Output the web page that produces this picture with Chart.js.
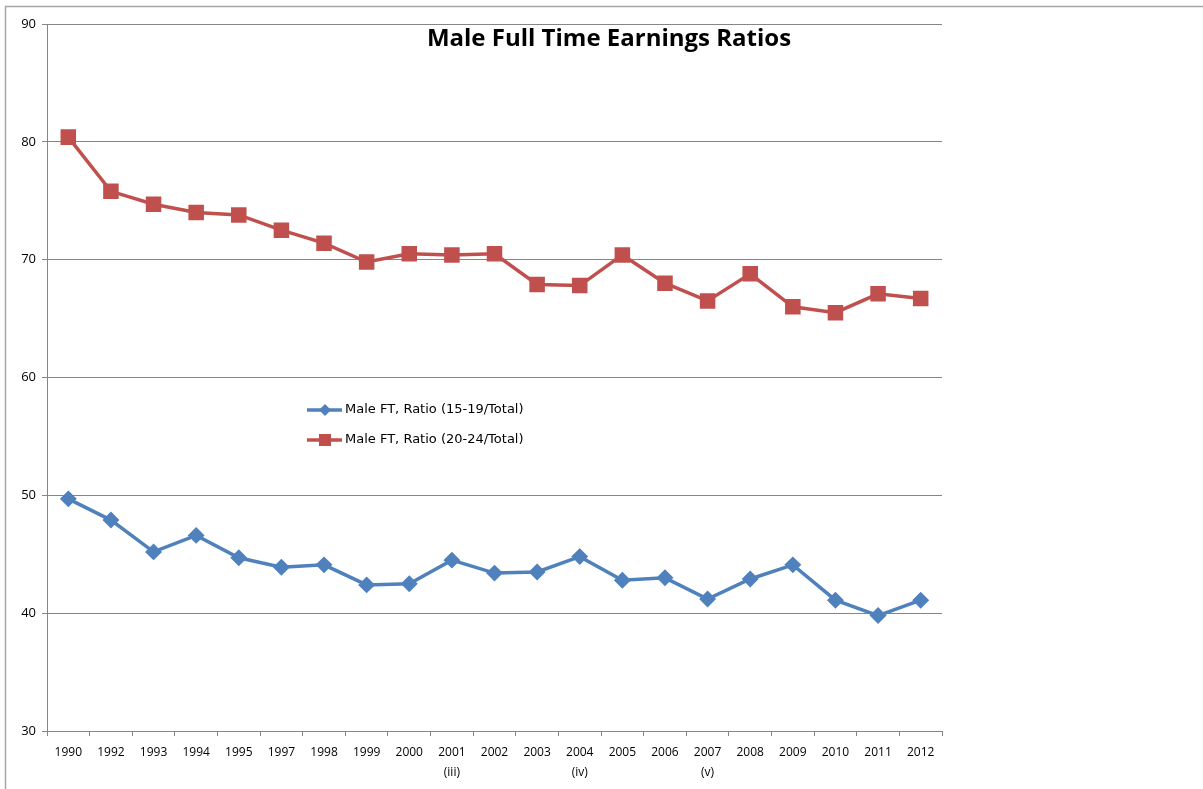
<!DOCTYPE html>
<html>
<head>
<meta charset="utf-8">
<script src="https://cdn.jsdelivr.net/npm/chart.js@4.4.1/dist/chart.umd.min.js"></script>
<style>
  html, body { margin: 0; padding: 0; background: #fff; }
  #wrap { width: 1203px; height: 789px; position: relative; }
</style>
</head>
<body>
<div id="wrap"><canvas id="ratioChart"></canvas></div>
<script>
var years = [
    '1990', '1992', '1993', '1994', '1995', '1997', '1998', '1999', '2000',
    ['2001', '(iii)'], '2002', '2003', ['2004', '(iv)'], '2005', '2006',
    ['2007', '(v)'], '2008', '2009', '2010', '2011', '2012'
];
var ratio1519 = [49.7, 47.9, 45.2, 46.6, 44.7, 43.9, 44.1, 42.4, 42.5, 44.5, 43.4,
                 43.5, 44.8, 42.8, 43.0, 41.2, 42.9, 44.1, 41.1, 39.8, 41.1];
var ratio2024 = [80.4, 75.8, 74.7, 74.0, 73.8, 72.5, 71.4, 69.8, 70.5, 70.4, 70.5,
                 67.9, 67.8, 70.4, 68.0, 66.5, 68.8, 66.0, 65.5, 67.1, 66.7];
var seriesNames = ['Male FT, Ratio (15-19/Total)', 'Male FT, Ratio (20-24/Total)'];
var yTicks = [30, 40, 50, 60, 70, 80, 90];
var chartTitle = 'Male Full Time Earnings Ratios';

var axisGrey = '#868686';
var baseFont = '"Open Sans", "DejaVu Sans", sans-serif';
var legendFont = '"DejaVu Sans", sans-serif';

// outer frame, title and the legend floating inside the plot
var decorations = {
    id: 'decorations',
    beforeDraw: function(chart) {
        var c = chart.ctx;
        c.save();
        c.strokeStyle = '#a6a6a6';
        c.lineWidth = 1.5;
        c.beginPath();
        c.moveTo(5.5, 789);
        c.lineTo(5.5, 6.5);
        c.lineTo(1203, 6.5);
        c.stroke();
        c.restore();
    },
    afterDraw: function(chart) {
        var c = chart.ctx;
        c.save();
        c.fillStyle = '#000';
        c.font = 'bold 24px ' + baseFont;
        c.textAlign = 'center';
        c.textBaseline = 'alphabetic';
        c.fillText(chartTitle, 609, 46);

        var rows = [410, 440];
        chart.data.datasets.forEach(function(ds, i) {
            var y = rows[i];
            c.strokeStyle = ds.borderColor;
            c.lineWidth = 3.5;
            c.beginPath();
            c.moveTo(307, y);
            c.lineTo(342, y);
            c.stroke();
            c.fillStyle = ds.backgroundColor;
            c.beginPath();
            if (ds.pointStyle === 'rect') {
                c.rect(319, y - 6, 12, 12);
            } else {
                c.moveTo(325, y - 6);
                c.lineTo(331, y);
                c.lineTo(325, y + 6);
                c.lineTo(319, y);
                c.closePath();
            }
            c.fill();
            c.fillStyle = '#000';
            c.font = '13px ' + legendFont;
            c.textAlign = 'left';
            c.textBaseline = 'middle';
            c.fillText(ds.label, 345, y);
        });
        c.restore();
    }
};

var ctx = document.getElementById('ratioChart').getContext('2d');
var myChart = new Chart(ctx, {
    type: 'line',
    data: {
        labels: years,
        datasets: [{
            label: seriesNames[0],
            data: ratio1519,
            borderColor: '#4F81BD',
            backgroundColor: '#4F81BD',
            borderWidth: 3.5,
            pointStyle: 'rectRot',
            pointRadius: 6,
            pointHoverRadius: 6,
            tension: 0
        }, {
            label: seriesNames[1],
            data: ratio2024,
            borderColor: '#C0504D',
            backgroundColor: '#C0504D',
            borderWidth: 3.5,
            pointStyle: 'rect',
            pointRadius: 8.5,
            pointHoverRadius: 8.5,
            tension: 0
        }]
    },
    options: {
        responsive: true,
        maintainAspectRatio: false,
        animation: false,
        layout: {
            padding: { left: 0, top: 24, right: 261, bottom: 0 }
        },
        plugins: {
            legend: { display: false },
            title: { display: false },
            tooltip: { enabled: false }
        },
        scales: {
            x: {
                type: 'category',
                offset: true,
                grid: {
                    offset: true,
                    drawOnChartArea: false,
                    drawTicks: true,
                    tickLength: 5,
                    color: axisGrey
                },
                border: { display: true, color: axisGrey, width: 1 },
                ticks: {
                    color: '#000',
                    font: { family: baseFont, size: 12, lineHeight: 1.65 },
                    padding: 7,
                    maxRotation: 0,
                    autoSkip: false
                },
                afterFit: function(scale) { scale.height = 58; }
            },
            y: {
                min: 30,
                max: 90,
                afterBuildTicks: function(scale) {
                    scale.ticks = yTicks.map(function(v) { return { value: v }; });
                },
                grid: {
                    color: axisGrey,
                    drawTicks: true,
                    tickLength: 5
                },
                border: { display: true, color: axisGrey, width: 1 },
                ticks: {
                    color: '#000',
                    font: { family: baseFont, size: 13 },
                    padding: 6
                },
                afterFit: function(scale) { scale.width = 47; }
            }
        }
    },
    plugins: [decorations]
});
</script>
</body>
</html>
